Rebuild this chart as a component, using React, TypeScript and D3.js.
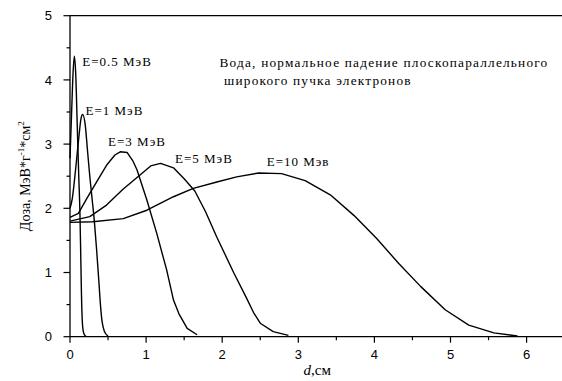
import React from "react";
import * as d3 from "d3";

const WIDTH = 562;
const HEIGHT = 381;

// Depth (cm) and dose (MeV·g⁻¹·cm²) for each beam energy
const depth05 = [0, 0.02, 0.04, 0.057, 0.075, 0.095, 0.115, 0.13, 0.14, 0.15, 0.16, 0.175, 0.195, 0.21];
const dose05 = [2.78, 3.45, 4.1, 4.37, 4.1, 3.3, 2.5, 1.95, 1.35, 0.7, 0.28, 0.08, 0.02, 0];

const depth1 = [0, 0.03, 0.06, 0.09, 0.12, 0.145, 0.167, 0.2, 0.23, 0.26, 0.29, 0.32, 0.35, 0.38, 0.4, 0.42, 0.45, 0.5];
const dose1 = [2.0, 2.15, 2.45, 2.8, 3.15, 3.4, 3.46, 3.3, 2.9, 2.5, 2.15, 1.8, 1.35, 0.85, 0.5, 0.25, 0.09, 0.01];

const depth3 = [0, 0.11, 0.22, 0.35, 0.48, 0.59, 0.66, 0.75, 0.83, 0.88, 1.01, 1.14, 1.27, 1.36, 1.43, 1.54, 1.67];
const dose3 = [1.86, 1.92, 2.15, 2.41, 2.67, 2.83, 2.88, 2.87, 2.73, 2.6, 2.13, 1.61, 1.04, 0.57, 0.36, 0.13, 0.03];

const depth5 = [0, 0.26, 0.48, 0.7, 0.92, 1.06, 1.19, 1.36, 1.5, 1.64, 1.78, 1.93, 2.15, 2.32, 2.41, 2.5, 2.67, 2.87];
const dose5 = [1.8, 1.87, 2.05, 2.3, 2.52, 2.66, 2.7, 2.63, 2.46, 2.27, 1.95, 1.55, 1.0, 0.6, 0.38, 0.21, 0.08, 0.02];

const depth10 = [0, 0.3, 0.7, 1.01, 1.36, 1.62, 1.93, 2.19, 2.48, 2.78, 3.09, 3.42, 3.73, 4.03, 4.32, 4.61, 4.93, 5.24, 5.57, 5.88];
const dose10 = [1.78, 1.79, 1.84, 1.97, 2.18, 2.31, 2.41, 2.49, 2.55, 2.54, 2.43, 2.21, 1.89, 1.53, 1.14, 0.78, 0.42, 0.18, 0.06, 0.01];

const energyLabels = ["E=0.5 МэВ", "E=1 МэВ", "E=3 МэВ", "E=5 МэВ", "E=10 Мэв"];
const xMajorTicks = [0, 1, 2, 3, 4, 5, 6];
const yMajorTicks = [0, 1, 2, 3, 4, 5];
const noteLines = ["Вода, нормальное падение плоскопараллельного", " широкого пучка электронов"];

const serif = "'Liberation Serif', 'Times New Roman', serif";
const sans = "'Liberation Sans', Arial, sans-serif";

export default function App() {
  const x = d3.scaleLinear().domain([0, 6.5]).range([70, 70 + 6.5 * 76.1]);
  const y = d3.scaleLinear().domain([0, 5]).range([336.7, 15.7]);

  const series = [
    { d: depth05, v: dose05, curve: d3.curveMonotoneX },
    { d: depth1, v: dose1, curve: d3.curveMonotoneX },
    { d: depth3, v: dose3, curve: d3.curveLinear },
    { d: depth5, v: dose5, curve: d3.curveLinear },
    { d: depth10, v: dose10, curve: d3.curveLinear },
  ];

  // label anchors: [depth, dose] at the baseline start
  const labelPos: [number, number][] = [
    [0.161, 4.21],
    [0.204, 3.46],
    [0.5, 2.97],
    [1.38, 2.71],
    [2.585, 2.66],
  ];

  const xMinor = d3.range(0.5, 6.5, 1);
  const yMinor = d3.range(0.5, 5, 1);
  const [x0, x1] = x.range();
  const [yb, yt] = y.range();

  return (
    <svg
      width={WIDTH}
      height={HEIGHT}
      style={{ position: "absolute", left: 0, top: 0, background: "#fff" }}
    >
      {series.map((s, i) => {
        const line = d3
          .line<number>()
          .x((_, k) => x(s.d[k]))
          .y((val) => y(val))
          .curve(s.curve);
        return (
          <path key={i} d={line(s.v) || ""} fill="none" stroke="#000" strokeWidth={1.4} strokeLinejoin="round" />
        );
      })}

      {/* axes frame */}
      <line x1={x0} x2={x1} y1={yb} y2={yb} stroke="#000" strokeWidth={1.3} />
      <line x1={x0} x2={x1} y1={yt} y2={yt} stroke="#000" strokeWidth={1.3} />
      <line x1={x0} x2={x0} y1={yb} y2={yt} stroke="#000" strokeWidth={1.3} />

      {xMajorTicks.map((t) => (
        <g key={"xt" + t}>
          <line x1={x(t)} x2={x(t)} y1={yb} y2={yb + 6} stroke="#000" strokeWidth={1.2} />
          <text x={x(t)} y={yb + 22} textAnchor="middle" fontFamily={sans} fontSize={13}>
            {t}
          </text>
        </g>
      ))}
      {xMinor.map((t) => (
        <line key={"xm" + t} x1={x(t)} x2={x(t)} y1={yb} y2={yb + 3.5} stroke="#000" strokeWidth={1.2} />
      ))}
      {yMajorTicks.map((t) => (
        <g key={"yt" + t}>
          <line x1={x0 - 6.5} x2={x0} y1={y(t)} y2={y(t)} stroke="#000" strokeWidth={1.2} />
          <text x={x0 - 18} y={y(t) + 4.6} textAnchor="end" fontFamily={sans} fontSize={13}>
            {t}
          </text>
        </g>
      ))}
      {yMinor.map((t) => (
        <line key={"ym" + t} x1={x0 - 3.5} x2={x0} y1={y(t)} y2={y(t)} stroke="#000" strokeWidth={1.2} />
      ))}

      {/* axis titles */}
      <text x={(x0 + x1) / 2} y={375} textAnchor="middle" fontFamily={serif} fontSize={15}>
        <tspan fontStyle="italic">d</tspan>
        <tspan>,см</tspan>
      </text>
      <text
        transform={`translate(30, ${(yb + yt) / 2}) rotate(-90)`}
        textAnchor="middle"
        fontFamily={serif}
        fontSize={14}
      >
        <tspan>Доза, МэВ*г</tspan>
        <tspan fontSize={9} dy={-6}>-1</tspan>
        <tspan dy={6}>*см</tspan>
        <tspan fontSize={9} dy={-6}>2</tspan>
      </text>

      {/* curve labels */}
      {energyLabels.map((lab, i) => (
        <text
          key={lab}
          x={x(labelPos[i][0])}
          y={y(labelPos[i][1])}
          fontFamily={serif}
          fontSize={13}
          letterSpacing={1}
        >
          {lab}
        </text>
      ))}

      {/* annotation */}
      {noteLines.map((ln, i) => (
        <text
          key={i}
          x={219.5}
          y={67.3 + i * 17.7}
          fontFamily={serif}
          fontSize={13.3}
          letterSpacing={1.2}
          style={{ whiteSpace: "pre" }}
        >
          {ln}
        </text>
      ))}
    </svg>
  );
}
